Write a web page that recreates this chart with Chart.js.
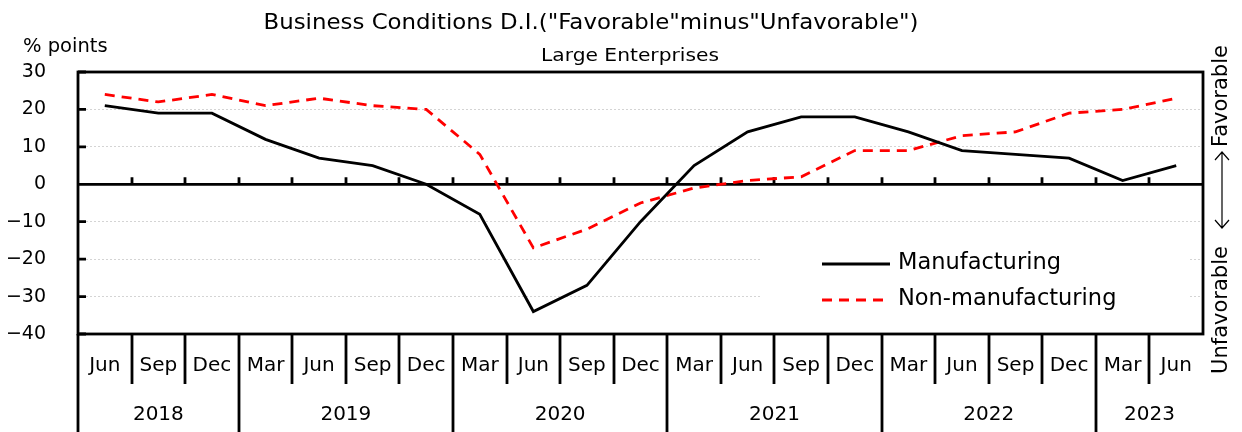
<!DOCTYPE html>
<html>
<head>
<meta charset="utf-8">
<script src="https://cdn.jsdelivr.net/npm/chart.js@4.4.0/dist/chart.umd.min.js"></script>
<style>
  html, body { margin: 0; padding: 0; background: #fff; }
  #wrap { width: 1242px; height: 432px; position: relative; }
</style>
</head>
<body>
<div id="wrap"><canvas id="diChart" width="1242" height="432"></canvas></div>
<script>
// quarters, Jun 2018 .. Jun 2023
var months = ['Jun', 'Sep', 'Dec', 'Mar', 'Jun', 'Sep', 'Dec', 'Mar', 'Jun', 'Sep', 'Dec',
              'Mar', 'Jun', 'Sep', 'Dec', 'Mar', 'Jun', 'Sep', 'Dec', 'Mar', 'Jun'];
var years = ['2018', '2019', '2020', '2021', '2022', '2023'];
var quartersPerYear = [3, 4, 4, 4, 4, 2];
var manufacturing = [21, 19, 19, 12, 7, 5, 0, -8, -34, -27, -10, 5, 14, 18, 18, 14, 9, 8, 7, 1, 5];
var nonManufacturing = [24, 22, 24, 21, 23, 21, 20, 8, -17, -12, -5, -1, 1, 2, 9, 9, 13, 14, 19, 20, 23];
var yTicks = [30, 20, 10, 0, -10, -20, -30, -40];
var gridValues = [20, 10, -10, -20, -30];

var FONT = '"DejaVu Sans", Verdana, sans-serif';

function fitText(ctx, text, x, y, width) {
    // squeeze text horizontally to a given width, centred on x
    var w = ctx.measureText(text).width;
    var s = width / w;
    ctx.save();
    ctx.translate(x, y);
    ctx.scale(s, 1);
    ctx.textAlign = 'center';
    ctx.fillText(text, 0, 0);
    ctx.restore();
}

var decorations = {
    id: 'decorations',
    beforeDraw: function (chart) {
        var ctx = chart.ctx;
        ctx.save();
        ctx.fillStyle = '#fff';
        ctx.fillRect(0, 0, chart.width, chart.height);
        ctx.restore();
    },
    beforeDatasetsDraw: function (chart) {
        var ctx = chart.ctx;
        var a = chart.chartArea;
        var y = chart.scales.y;
        var x = chart.scales.x;
        var zero = y.getPixelForValue(0);
        var step = (a.right - a.left) / months.length;

        ctx.save();
        // white box behind the legend
        ctx.fillStyle = '#fff';
        ctx.fillRect(762, 238, 428, 84);

        ctx.strokeStyle = '#000';
        ctx.lineWidth = 2.8;
        ctx.strokeRect(a.left, a.top, a.right - a.left, a.bottom - a.top);

        // zero line with tick marks
        ctx.beginPath();
        ctx.moveTo(a.left, zero);
        ctx.lineTo(a.right, zero);
        for (var i = 1; i < months.length; i++) {
            var bx = Math.round(a.left + i * step);
            ctx.moveTo(bx, zero);
            ctx.lineTo(bx, zero - 7);
        }
        // inner y ticks
        yTicks.forEach(function (v) {
            var py = y.getPixelForValue(v);
            ctx.moveTo(a.left, py);
            ctx.lineTo(a.left + 8, py);
        });
        ctx.stroke();

        // month / year table under the plot
        ctx.beginPath();
        ctx.moveTo(a.left, a.bottom);
        ctx.lineTo(a.left, chart.height);
        var idx = 0;
        var bounds = [];
        quartersPerYear.forEach(function (n) { idx += n; bounds.push(idx); });
        for (var j = 1; j < months.length; j++) {
            var sx = Math.round(a.left + j * step);
            ctx.moveTo(sx, a.bottom);
            ctx.lineTo(sx, bounds.indexOf(j) >= 0 ? chart.height : a.bottom + 50);
        }
        ctx.stroke();

        ctx.fillStyle = '#000';
        ctx.font = '20px ' + FONT;
        ctx.textAlign = 'center';
        ctx.textBaseline = 'middle';
        months.forEach(function (m, k) {
            ctx.fillText(m, x.getPixelForValue(k), a.bottom + 32);
        });
        var start = 0;
        years.forEach(function (yr, k) {
            var cx = a.left + (start + quartersPerYear[k] / 2) * step;
            ctx.fillText(yr, cx, a.bottom + 81);
            start += quartersPerYear[k];
        });
        ctx.restore();
    },
    afterDatasetsDraw: function (chart) {
        var ctx = chart.ctx;
        ctx.save();
        ctx.fillStyle = '#000';
        ctx.textBaseline = 'alphabetic';

        // titles
        ctx.font = '21px ' + FONT;
        fitText(ctx, 'Business Conditions D.I.("Favorable"minus"Unfavorable")', 591, 29, 655);
        ctx.font = '18px ' + FONT;
        fitText(ctx, 'Large Enterprises', 630, 61, 178);
        ctx.font = '19.5px ' + FONT;
        ctx.textAlign = 'left';
        ctx.fillText('% points', 23, 52);

        // legend
        ctx.lineWidth = 2.8;
        ctx.strokeStyle = '#000';
        ctx.beginPath();
        ctx.moveTo(822, 264);
        ctx.lineTo(890, 264);
        ctx.stroke();
        ctx.strokeStyle = '#ff0000';
        ctx.setLineDash([10, 7]);
        ctx.beginPath();
        ctx.moveTo(822, 300);
        ctx.lineTo(890, 300);
        ctx.stroke();
        ctx.setLineDash([]);
        ctx.font = '22.5px ' + FONT;
        ctx.textBaseline = 'middle';
        ctx.fillText('Manufacturing', 898, 263);
        ctx.fillText('Non-manufacturing', 898, 299);

        // right side note
        ctx.translate(1222, 0);
        ctx.rotate(-Math.PI / 2);
        ctx.font = '21px ' + FONT;
        ctx.textAlign = 'center';
        ctx.fillText('Unfavorable', -310, 0);
        ctx.fillText('Favorable', -96, 0);
        ctx.strokeStyle = '#000';
        ctx.lineWidth = 1.2;
        ctx.beginPath();
        ctx.moveTo(-228, 0);
        ctx.lineTo(-152, 0);
        ctx.moveTo(-220, -7);
        ctx.lineTo(-228, 0);
        ctx.lineTo(-220, 7);
        ctx.moveTo(-160, -7);
        ctx.lineTo(-152, 0);
        ctx.lineTo(-160, 7);
        ctx.stroke();
        ctx.restore();
    }
};

new Chart(document.getElementById('diChart'), {
    type: 'line',
    data: {
        labels: months,
        datasets: [
            {
                label: 'Manufacturing',
                data: manufacturing,
                borderColor: '#000',
                borderWidth: 2.8,
                pointRadius: 0,
                tension: 0,
                fill: false
            },
            {
                label: 'Non-manufacturing',
                data: nonManufacturing,
                borderColor: '#ff0000',
                borderWidth: 2.8,
                borderDash: [10, 7],
                pointRadius: 0,
                tension: 0,
                fill: false
            }
        ]
    },
    options: {
        responsive: false,
        animation: false,
        layout: { padding: { top: 72, right: 39, left: 0, bottom: 0 } },
        plugins: {
            legend: { display: false },
            tooltip: { enabled: false }
        },
        scales: {
            x: {
                type: 'category',
                offset: true,
                grid: { display: false },
                border: { display: false },
                ticks: { display: false },
                afterFit: function (scale) { scale.height = 98; }
            },
            y: {
                min: -40,
                max: 30,
                grid: {
                    drawTicks: false,
                    lineWidth: 1,
                    color: function (c) {
                        return gridValues.indexOf(c.tick.value) >= 0 ? '#d4d4d4' : 'rgba(0,0,0,0)';
                    }
                },
                border: { display: false, dash: [2, 2] },
                ticks: {
                    stepSize: 10,
                    padding: 32,
                    color: '#000',
                    font: { family: FONT, size: 19 },
                    callback: function (v) { return v < 0 ? '\u2212' + Math.abs(v) : String(v); }
                },
                afterFit: function (scale) { scale.width = 78; }
            }
        }
    },
    plugins: [decorations]
});
</script>
</body>
</html>
